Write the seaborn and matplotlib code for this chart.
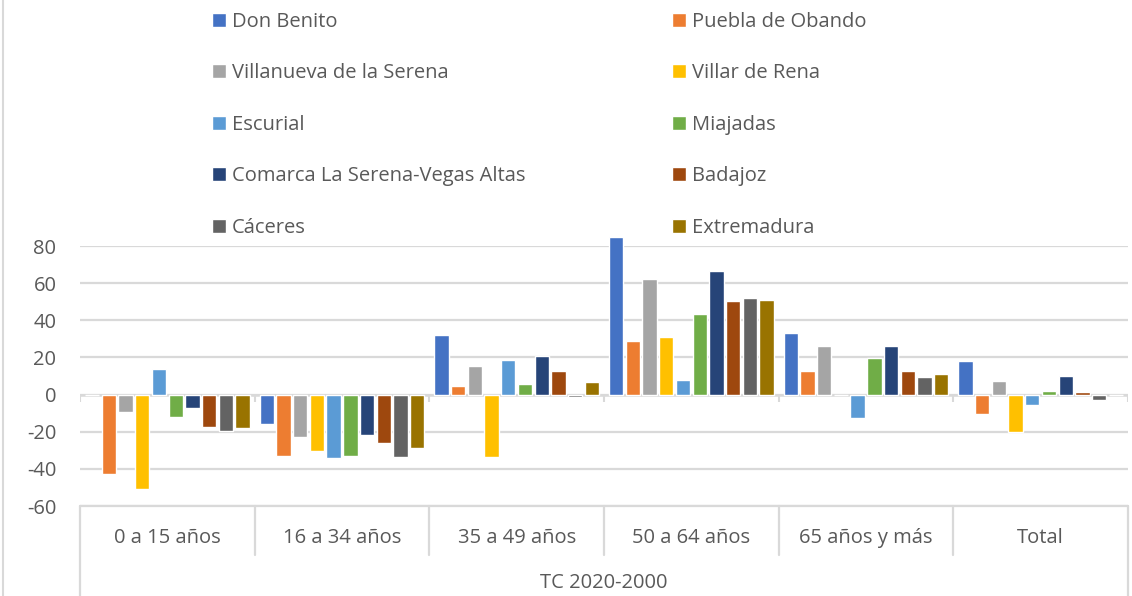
import matplotlib
matplotlib.use("Agg")
import matplotlib.pyplot as plt
import seaborn as sns
import pandas as pd
import numpy as np

categories = ["0 a 15 años", "16 a 34 años", "35 a 49 años", "50 a 64 años", "65 años y más", "Total"]
series = ["Don Benito", "Puebla de Obando", "Villanueva de la Serena", "Villar de Rena",
          "Escurial", "Miajadas", "Comarca La Serena-Vegas Altas", "Badajoz", "Cáceres", "Extremadura"]

don_benito = [0.0, -15.9, 32.1, 85.0, 33.2, 18.2]
puebla_de_obando = [-42.7, -33.0, 4.8, 28.9, 12.9, -10.5]
villanueva_serena = [-9.5, -22.9, 15.5, 62.1, 26.3, 7.5]
villar_de_rena = [-51.0, -30.4, -33.7, 31.1, 0.0, -20.2]
escurial = [14.0, -34.1, 18.8, 8.0, -12.7, -5.7]
miajadas = [-12.3, -33.0, 5.9, 43.4, 19.8, 2.1]
comarca = [-7.3, -21.8, 20.9, 66.4, 26.3, 10.2]
badajoz = [-17.5, -26.0, 12.9, 50.4, 12.9, 1.6]
caceres = [-19.8, -33.6, -1.5, 52.0, 9.6, -3.0]
extremadura = [-18.0, -28.8, 7.0, 50.9, 11.3, 0.0]

values = [don_benito, puebla_de_obando, villanueva_serena, villar_de_rena, escurial,
          miajadas, comarca, badajoz, caceres, extremadura]

colors = ["#4472C4", "#ED7D31", "#A5A5A5", "#FFC000", "#5B9BD5",
          "#70AD47", "#264478", "#9E480E", "#636363", "#997300"]

yticks = [-60, -40, -20, 0, 20, 40, 60, 80]
group_title = "TC 2020-2000"

rows = []
for s, vals in zip(series, values):
    for c, v in zip(categories, vals):
        rows.append({"grupo": c, "serie": s, "valor": v})
df = pd.DataFrame(rows)

sns.set_theme(style="white")
plt.rcParams["font.family"] = ["Open Sans", "DejaVu Sans"]
txt = "#595959"
grid = "#D9D9D9"
FS = 14.5

fig = plt.figure(figsize=(11.32, 5.96), dpi=100)
W, H = 1132, 596
x0, x1, ytop, ybot = 80, 1128, 246, 506
ax = fig.add_axes([x0 / W, 1 - ybot / H, (x1 - x0) / W, (ybot - ytop) / H])

sns.barplot(data=df, x="grupo", y="valor", hue="serie", order=categories, hue_order=series,
            palette=colors, width=0.955, gap=0.14, ax=ax, legend=True, saturation=1)
for p in ax.patches:
    p.set_clip_on(False)
    p.set_zorder(3)

ax.set_ylim(-60, 80)
ax.set_xlim(-0.5, len(categories) - 0.5)
ax.set_yticks(yticks)
ax.set_yticklabels([str(t) for t in yticks], color=txt, fontsize=FS)
ax.yaxis.grid(True, color=grid, lw=1.6)
ax.set_axisbelow(True)
for s in ax.spines.values():
    s.set_visible(False)
ax.set_xlabel("")
ax.set_ylabel("")
ax.tick_params(axis="y", length=0, pad=17)
ax.tick_params(axis="x", length=0, pad=16, labelsize=FS, labelcolor=txt)

# zero axis line and small ticks at group boundaries
ax.axhline(0, color=grid, lw=1.8, zorder=1)
px_per_unit = (ybot - ytop) / 140
bounds = np.arange(-0.5, len(categories), 1.0)
ax.vlines(bounds, 0, -7 / px_per_unit, color=grid, lw=1.5, zorder=1)

# multi-level category box
ah = ybot - ytop
trans = ax.get_xaxis_transform()
ax.plot([-0.5, len(categories) - 0.5], [0, 0], color=grid, lw=1.6, transform=trans, clip_on=False)
for b in bounds:
    if b in (bounds[0], bounds[-1]):
        ax.plot([b, b], [0, -(H - ybot) / ah], color=grid, lw=1.6, transform=trans, clip_on=False)
    else:
        ax.plot([b, b], [0, -(555 - ybot) / ah], color=grid, lw=1.6, transform=trans, clip_on=False)
ax.text(0.5, -(583 - ybot) / ah, group_title, transform=ax.transAxes, ha="center", va="center",
        color=txt, fontsize=FS)

# legend: two columns, each its own legend placed where the reference has it
handles, labels = ax.get_legend_handles_labels()
ax.get_legend().remove()
px = FS * 100 / 72
common = dict(loc="upper left", frameon=False, fontsize=FS, labelcolor=txt,
              handlelength=14 / px, handleheight=14 / px, handletextpad=6 / px,
              labelspacing=1.56, borderpad=0, borderaxespad=0)
leg1 = fig.legend([handles[i] for i in (0, 2, 4, 6, 8)], [labels[i] for i in (0, 2, 4, 6, 8)],
                  bbox_to_anchor=(212 / W, 1 - 12 / H), **common)
leg2 = fig.legend([handles[i] for i in (1, 3, 5, 7, 9)], [labels[i] for i in (1, 3, 5, 7, 9)],
                  bbox_to_anchor=(672 / W, 1 - 12 / H), **common)

# chart border on the left
fig.add_artist(plt.Line2D([3 / W, 3 / W], [0, 1], color=grid, lw=1.5))

fig.savefig("out.png", dpi=100)
